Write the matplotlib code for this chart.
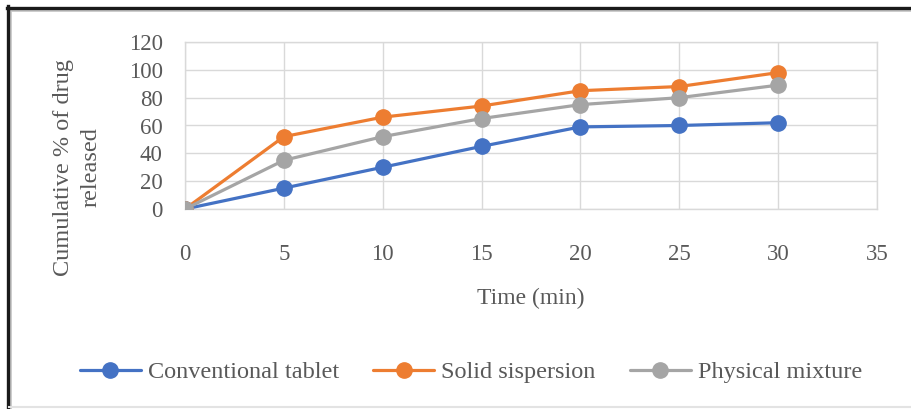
import matplotlib
matplotlib.use("Agg")
import matplotlib.pyplot as plt
from matplotlib.lines import Line2D

# Dissolution data: time points (min) and cumulative % released
time_min = [0, 5, 10, 15, 20, 25, 30]
conventional = [0, 15, 30, 45, 59, 60, 62]
solid_disp = [0, 52, 66, 74, 85, 88, 98]
physical_mix = [0, 35, 52, 65, 75, 80, 89]

series_names = ["Conventional tablet", "Solid sispersion", "Physical mixture"]
colors = ["#4472C4", "#ED7D31", "#A5A5A5"]

x_ticks = [0, 5, 10, 15, 20, 25, 30, 35]
y_ticks = [0, 20, 40, 60, 80, 100, 120]

plt.rcParams["font.family"] = ["Liberation Serif", "DejaVu Serif"]
text_color = "#595959"
grid_color = "#D9D9D9"

W, H = 911, 409
fig = plt.figure(figsize=(W / 100, H / 100), dpi=100)
fig.patch.set_facecolor("white")

# plot area in pixel positions
left, right, top, bottom = 185, 877, 42, 209
ax = fig.add_axes([left / W, 1 - bottom / H, (right - left) / W, (bottom - top) / H])

for vals, name, c in zip([conventional, solid_disp, physical_mix], series_names, colors):
    ax.plot(time_min, vals, color=c, lw=2.3, marker="o", ms=11, label=name,
            solid_capstyle="round", zorder=3)

ax.set_xlim(0, 35)
ax.set_ylim(0, 120)
ax.set_xticks(x_ticks)
ax.set_yticks(y_ticks)
ax.grid(True, color=grid_color, lw=1.0)
ax.set_axisbelow(True)
for sp in ax.spines.values():
    sp.set_color(grid_color)
    sp.set_linewidth(1.0)
ax.tick_params(axis="both", length=0, labelsize=16.5, labelcolor=text_color)
ax.tick_params(axis="x", pad=25)
ax.tick_params(axis="y", pad=16)

fig.text(531 / W, 1 - 298 / H, "Time (min)", ha="center", va="center",
         fontsize=17, color=text_color)
fig.text(77 / W, 1 - 167 / H, "Cumulative % of drug\nreleased", ha="center",
         va="center", rotation=90, fontsize=17.5, color=text_color, linespacing=1.4)

leg = fig.legend(loc="center", bbox_to_anchor=(471 / W, 1 - 372 / H), ncol=3,
                 frameon=False, fontsize=17.5, handlelength=2.5, columnspacing=1.4,
                 handletextpad=0.3, labelcolor=text_color)

# outer frame
def fig_line(xs, ys, color, lw):
    fig.add_artist(Line2D([x / W for x in xs], [1 - y / H for y in ys],
                          transform=fig.transFigure, color=color, lw=lw))

fig_line([9, W], [10, 10], "#C8C8C8", 2)
fig_line([10, 10], [9, H], "#C8C8C8", 2)
fig_line([7, W], [7.5, 7.5], "#1A1A1A", 2.4)
fig_line([8, 8], [6, H], "#1A1A1A", 2.4)
fig_line([9, W], [407, 407], "#E3E3E3", 1.5)

fig.savefig("out.png", dpi=100, facecolor="white")
